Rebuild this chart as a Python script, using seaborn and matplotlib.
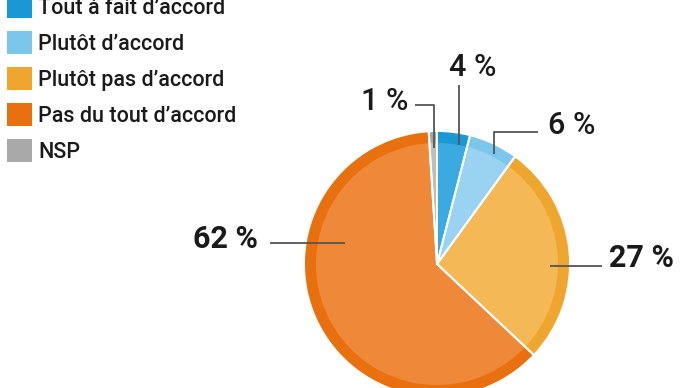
import matplotlib
matplotlib.use("Agg")
import matplotlib.pyplot as plt
import seaborn as sns
from matplotlib.patches import Patch

categories = ["Tout à fait d’accord", "Plutôt d’accord", "Plutôt pas d’accord",
              "Pas du tout d’accord", "NSP"]
values = [4, 6, 27, 62, 1]
value_labels = ["4 %", "6 %", "27 %", "62 %", "1 %"]
ring_colors = ["#1A98D5", "#7CC6EC", "#EFA62E", "#E8700F", "#A9A9A9"]
inner_colors = ["#3BAAE0", "#9AD3F1", "#F4B856", "#EE893A", "#BEBEBE"]

sns.set_theme(style="white")
FONT = ["Roboto", "DejaVu Sans"]
plt.rcParams["font.family"] = FONT

W, H = 690, 388
fig = plt.figure(figsize=(W / 100, H / 100), dpi=100)
ax = fig.add_axes([0, 0, 1, 1])

def py(y):
    return H - y

cx, cy, R = 437, py(264), 133
ax.pie(values, colors=ring_colors, startangle=90, counterclock=False,
       radius=R, center=(cx, cy), wedgeprops=dict(linewidth=0))
ax.pie(values, colors=inner_colors, startangle=90, counterclock=False,
       radius=R - 12, center=(cx, cy), wedgeprops=dict(linewidth=0))
ax.pie(values, colors=["none"] * len(values), startangle=90, counterclock=False,
       radius=R, center=(cx, cy), wedgeprops=dict(edgecolor="white", linewidth=1.4))

ax.set_xlim(0, W)
ax.set_ylim(0, H)
ax.set_aspect("equal")
ax.axis("off")

# leader lines (pixel coordinates)
lc = "#555555"
lw = 1.3
leaders = [
    [(415, 105), (434, 105), (434, 148)],
    [(459, 85), (459, 145)],
    [(538, 132), (494, 132), (494, 154)],
    [(270, 243), (345, 243)],
    [(550, 266), (602, 266)],
]
for pts in leaders:
    ax.plot([p[0] for p in pts], [py(p[1]) for p in pts], color=lc, lw=lw,
            solid_capstyle="butt")

label_pos = {"4 %": (473, 68), "6 %": (572, 125), "27 %": (641, 258),
             "62 %": (225, 239), "1 %": (385, 101)}
label_weight = {"4 %": "medium", "6 %": "medium", "1 %": "medium",
                "27 %": "bold", "62 %": "bold"}
for lab in value_labels:
    x, y = label_pos[lab]
    ax.text(x, py(y), lab, ha="center", va="center", fontsize=22,
            color="#1a1a1a", fontweight=label_weight[lab], family=FONT)

handles = [Patch(facecolor=c, edgecolor="none") for c in ring_colors]
leg = ax.legend(handles, categories, loc="upper left",
                bbox_to_anchor=(7 / W, (H + 5) / H), bbox_transform=fig.transFigure,
                frameon=False, handlelength=1.15, handleheight=1.3,
                handletextpad=0.3, labelspacing=0.56, borderpad=0, borderaxespad=0,
                prop={"family": FONT, "size": 15.5, "weight": "medium"})
for t in leg.get_texts():
    t.set_color("#1a1a1a")

fig.savefig("out.png", dpi=100)
